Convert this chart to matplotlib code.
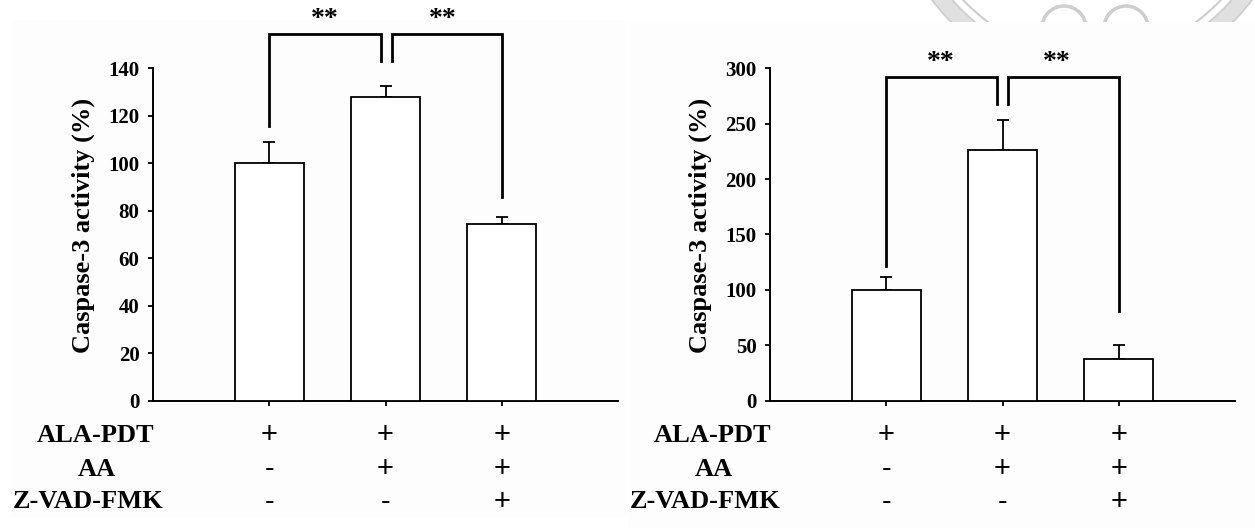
import matplotlib
matplotlib.use("Agg")
import matplotlib.pyplot as plt
import matplotlib.transforms as mtransforms
from matplotlib.patches import Rectangle, Circle, Wedge
import numpy as np

plt.rcParams['font.family'] = ['Liberation Serif', 'DejaVu Serif']

# ---- data ----
conditions = ["ALA-PDT", "AA", "Z-VAD-FMK"]
treatment_signs = [["+", "+", "+"],
                   ["-", "+", "+"],
                   ["-", "-", "+"]]

left_values = [100, 128, 74.5]
left_errors = [9, 4.7, 3]
left_yticks = [0, 20, 40, 60, 80, 100, 120, 140]

right_values = [100, 226, 37.7]
right_errors = [12, 27, 13]
right_yticks = [0, 50, 100, 150, 200, 250, 300]

ylabel_text = "Caspase-3 activity (%)"
star_text = "**"

# significance brackets: (x_start, x_end, y_start_bottom, y_end_bottom, y_top)
left_brackets = [(0.0, 0.965, 115.6, 142.9, 154.6),
                 (1.06, 2.0, 142.9, 85.9, 154.6)]
left_stars = [(0.48, 160.5), (1.49, 160.5)]
right_brackets = [(0.0, 0.955, 122.0, 267.8, 292.2),
                  (1.045, 2.0, 267.8, 81.0, 292.2)]
right_stars = [(0.47, 305.5), (1.47, 305.5)]

# ---- figure ----
W, H = 1255, 528
fig = plt.figure(figsize=(W / 100, H / 100), dpi=100)
fig.patch.set_facecolor("white")


def fx(px):
    return px / W


def fy(py):
    return 1 - py / H


# very faint panel backgrounds
fig.add_artist(Rectangle((fx(10), fy(518)), fx(617), 498 / H,
                         transform=fig.transFigure, facecolor="#fdfdfd",
                         edgecolor="none", zorder=-10))
fig.add_artist(Rectangle((fx(628), fy(528)), fx(627), 506 / H,
                         transform=fig.transFigure, facecolor="#fdfdfd",
                         edgecolor="none", zorder=-10))

# seal watermark along the top edge
wm = fig.add_axes([0, 0, 1, 1], zorder=-5)
wm.set_xlim(0, W)
wm.set_ylim(H, 0)
wm.axis("off")
clip = Rectangle((0, 0), W, 22, transform=wm.transData)
seal_color = "#cdcdcd"
arts = [
    Wedge((1092, -120), 200, 0, 360, width=16, facecolor="#e0e0e0",
          edgecolor=seal_color, linewidth=1.2),
    Circle((1092, -120), 176, facecolor="none", edgecolor=seal_color,
           linewidth=1.5),
    Circle((1064, 28), 22, facecolor="none", edgecolor=seal_color,
           linewidth=2.5),
    Circle((1126, 28), 22, facecolor="none", edgecolor=seal_color,
           linewidth=2.5),
]
for a in arts:
    wm.add_patch(a)
    a.set_clip_path(clip)

AX_TOP, AX_BOT = 68.3, 400.7
AX_W = 465


def draw_panel(left_px, values, errors, yticks, brackets, stars):
    ax = fig.add_axes([fx(left_px), fy(AX_BOT), fx(AX_W),
                       (AX_BOT - AX_TOP) / H])
    ax.patch.set_alpha(0)
    x = np.arange(len(values))
    ax.bar(x, values, width=0.59, color="white", edgecolor="black",
           linewidth=1.3, zorder=3)
    ax.errorbar(x, values, yerr=[np.zeros(len(errors)), errors], fmt="none",
                ecolor="black", elinewidth=1.3, capsize=4, capthick=1.3,
                zorder=2)
    ax.set_xlim(-1, 3)
    ax.set_ylim(0, yticks[-1])
    ax.set_yticks(yticks)
    ax.set_xticks(x)
    ax.set_xticklabels([])
    for s in ("top", "right"):
        ax.spines[s].set_visible(False)
    for s in ("left", "bottom"):
        ax.spines[s].set_linewidth(1.4)
    ax.tick_params(axis="both", direction="out", length=3.8, width=1.3,
                   color="black")
    ax.tick_params(axis="y", pad=6)
    for lab in ax.get_yticklabels():
        lab.set_fontsize(15)
        lab.set_fontweight("bold")
    ax.set_ylabel(ylabel_text, fontsize=19, fontweight="bold")
    ax.yaxis.set_label_coords(-0.125, 0.526)

    for x0, x1, yb0, yb1, yt in brackets:
        ax.plot([x0, x0, x1, x1], [yb0, yt, yt, yb1], color="black",
                linewidth=2.0, clip_on=False, solid_joinstyle="miter",
                zorder=4)
    for sx, sy in stars:
        ax.text(sx, sy, star_text, ha="center", va="center", fontsize=20,
                fontweight="bold", clip_on=False)

    # treatment table beneath the axis
    blend = mtransforms.blended_transform_factory(ax.transData,
                                                  fig.transFigure)
    row_y = [435, 469, 502]
    label_dx = [-57, -56, -65]
    for r, name in enumerate(conditions):
        fig.text(fx(left_px + label_dx[r]), fy(row_y[r]), name,
                 ha="center", va="center", fontsize=19, fontweight="bold")
        for c, sign in enumerate(treatment_signs[r]):
            ax.text(c, fy(row_y[r]), sign, transform=blend, ha="center",
                    va="center", fontsize=21, clip_on=False,
                    family=["Liberation Sans", "DejaVu Sans"])
    return ax


draw_panel(153, left_values, left_errors, left_yticks, left_brackets,
           left_stars)
draw_panel(770, right_values, right_errors, right_yticks, right_brackets,
           right_stars)

fig.savefig("out.png", dpi=100, facecolor="white")
